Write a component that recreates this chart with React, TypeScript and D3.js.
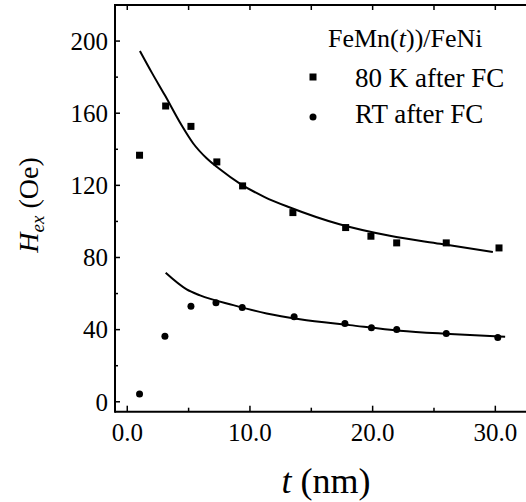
import React from "react";
import * as d3 from "d3";

const xMajorTicks = [0, 10, 20, 30];
const xMinorTicks = [5, 15, 25];
const yMajorTicks = [0, 40, 80, 120, 160, 200];
const yMinorTicks = [20, 60, 100, 140, 180];

const t80 = [1.0, 3.13, 5.19, 7.3, 9.4, 13.5, 17.8, 19.86, 21.96, 26.0, 30.3];
const h80 = [136.7, 164, 152.7, 133, 119.7, 104.9, 96.6, 91.8, 88.1, 88.1, 85.3];

const tRT = [1.0, 3.07, 5.19, 7.23, 9.37, 13.6, 17.74, 19.9, 21.96, 26.0, 30.2];
const hRT = [4.3, 36.4, 53, 54.9, 52.3, 47.1, 43.4, 41.0, 40.1, 37.9, 35.7];

const fit80T = [1.03, 2.0, 3.07, 4.43, 5.38, 6.47, 7.5, 9.18, 11.2, 13.26, 17.3, 21.4, 25.5, 29.8];
const fit80H = [194.5, 182.5, 169.9, 153.3, 143.2, 135.0, 129.2, 121.0, 113.5, 107.7, 98.4, 92.0, 87.6, 83.1];

const fitRTT = [3.13, 4.84, 5.93, 8.64, 11.36, 14.07, 18.15, 22.2, 26.3, 30.8];
const fitRTH = [71.5, 62.3, 59.0, 53.6, 49.0, 45.8, 42.5, 39.4, 37.6, 36.0];

const legendTitle = ["FeMn(", "t", "))/FeNi"];
const legendLabels = ["80 K after FC", "RT after FC"];

const FONT = '"Times New Roman", "Liberation Serif", "DejaVu Serif", Tinos, serif';

export default function App() {
  const W = 526, H = 502;
  const left = 115, right = 526, top = 5, bottom = 411.7;
  const x = d3.scaleLinear().domain([-1, 32.5]).range([left, right]);
  const y = d3.scaleLinear().domain([-5.5, 220]).range([bottom, top]);

  const line = d3
    .line<[number, number]>()
    .x((d) => x(d[0]))
    .y((d) => y(d[1]))
    .curve(d3.curveMonotoneX);

  const fit80 = fit80T.map((t, i) => [t, fit80H[i]] as [number, number]);
  const fitRT = fitRTT.map((t, i) => [t, fitRTH[i]] as [number, number]);

  const sq = 7;
  const r = 3.5;
  const ts = { fontFamily: FONT };

  return (
    <svg width={W} height={H} style={{ position: "absolute", left: 0, top: 0, fontFamily: FONT }}>
      <rect width={W} height={H} fill="white" />
      {/* frame */}
      <line x1={left} x2={right} y1={top} y2={top} stroke="black" strokeWidth={2} />
      <line x1={left} x2={right} y1={bottom} y2={bottom} stroke="black" strokeWidth={2} />
      <line x1={left} x2={left} y1={top - 1} y2={bottom + 1} stroke="black" strokeWidth={2} />

      {/* x ticks */}
      {[...xMajorTicks, ...xMinorTicks].map((v) => (
        <g key={"xt" + v}>
          <line x1={x(v)} x2={x(v)} y1={bottom} y2={bottom - (xMajorTicks.includes(v) ? 6 : 4)} stroke="black" strokeWidth={1.5} />
          <line x1={x(v)} x2={x(v)} y1={top} y2={top + 5} stroke="black" strokeWidth={1.5} />
        </g>
      ))}
      {xMajorTicks.map((v) => (
        <text key={"xl" + v} x={x(v)} y={441} textAnchor="middle" fontSize={25} style={ts}>
          {v.toFixed(1)}
        </text>
      ))}

      {/* y ticks */}
      {yMajorTicks.map((v) => (
        <g key={"yt" + v}>
          <line x1={left} x2={left + 5} y1={y(v)} y2={y(v)} stroke="black" strokeWidth={1.5} />
          <text x={108} y={y(v)} dy="0.35em" textAnchor="end" fontSize={25} style={ts}>
            {v}
          </text>
        </g>
      ))}
      {yMinorTicks.map((v) => (
        <line key={"ym" + v} x1={left} x2={left + 3} y1={y(v)} y2={y(v)} stroke="black" strokeWidth={1.5} />
      ))}

      {/* axis titles */}
      <text x={326} y={493} textAnchor="middle" fontSize={36} style={ts}>
        <tspan fontStyle="italic">t</tspan>
        <tspan> (nm)</tspan>
      </text>
      <text transform={`translate(38,205) rotate(-90)`} textAnchor="middle" fontSize={28} style={ts}>
        <tspan fontStyle="italic">H</tspan>
        <tspan fontStyle="italic" fontSize={19} dy={6}>ex</tspan>
        <tspan dy={-6}> (Oe)</tspan>
      </text>

      {/* fit lines */}
      <path d={line(fit80) || ""} fill="none" stroke="black" strokeWidth={2} />
      <path d={line(fitRT) || ""} fill="none" stroke="black" strokeWidth={2} />

      {/* markers */}
      {t80.map((t, i) => (
        <rect key={"s" + i} x={x(t) - sq / 2} y={y(h80[i]) - sq / 2} width={sq} height={sq} fill="black" />
      ))}
      {tRT.map((t, i) => (
        <circle key={"c" + i} cx={x(t)} cy={y(hRT[i])} r={r} fill="black" />
      ))}

      {/* legend */}
      <text x={328} y={47} fontSize={26} style={ts}>
        <tspan>{legendTitle[0]}</tspan>
        <tspan fontStyle="italic">{legendTitle[1]}</tspan>
        <tspan>{legendTitle[2]}</tspan>
      </text>
      <rect x={313 - sq / 2} y={77 - sq / 2} width={sq} height={sq} fill="black" />
      <text x={355} y={87} fontSize={27} style={ts}>{legendLabels[0]}</text>
      <circle cx={313} cy={117} r={r} fill="black" />
      <text x={355} y={123} fontSize={27} style={ts}>{legendLabels[1]}</text>
    </svg>
  );
}
